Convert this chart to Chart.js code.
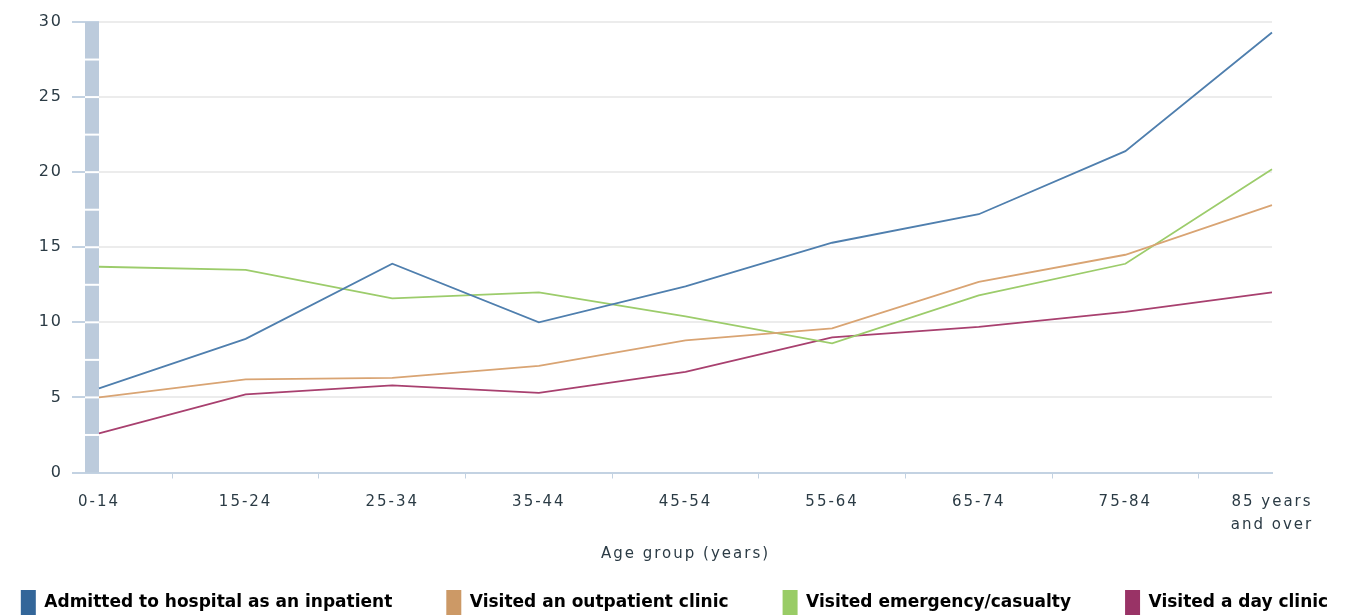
<!DOCTYPE html>
<html>
<head>
<meta charset="utf-8">
<script src="https://cdn.jsdelivr.net/npm/chart.js@4.4.1/dist/chart.umd.min.js"></script>
<style>
html,body{margin:0;padding:0;background:#fff;overflow:hidden;}
#wrap{width:1349px;height:615px;position:relative;}
</style>
</head>
<body>
<div id="wrap"><canvas id="c" width="1349" height="615"></canvas></div>
<script>
const categories = ['0-14','15-24','25-34','35-44','45-54','55-64','65-74','75-84',['85 years','and over']];
const inpatient   = [5.6, 8.9, 13.9, 10.0, 12.4, 15.3, 17.2, 21.4, 29.3];
const outpatient  = [5.0, 6.2, 6.3, 7.1, 8.8, 9.6, 12.7, 14.5, 17.8];
const emergency   = [13.7, 13.5, 11.6, 12.0, 10.4, 8.6, 11.8, 13.9, 20.2];
const dayClinic   = [2.6, 5.2, 5.8, 5.3, 6.7, 9.0, 9.7, 10.7, 12.0];
const seriesNames = ['Admitted to hospital as an inpatient','Visited an outpatient clinic','Visited emergency/casualty','Visited a day clinic'];
const yTicks = [0, 5, 10, 15, 20, 25, 30];

const lineColors = ['#4f7fae', '#d9a473', '#9ccc6b', '#a8406f'];
const boxColors  = ['#336699', '#cc9966', '#99cc66', '#993366'];
const seriesData = [inpatient, outpatient, emergency, dayClinic];

const axisBlue = '#c3d2e2';
const textCol = '#2b3b45';

function setSpacing(chart) {
  if ('letterSpacing' in chart.ctx) chart.ctx.letterSpacing = '2px';
}
function noSpacing(ctx) {
  if ('letterSpacing' in ctx) ctx.letterSpacing = '0px';
}

const spacingPlugin = {
  id: 'spacing',
  beforeInit: setSpacing,
  beforeUpdate: setSpacing,
  beforeLayout: setSpacing,
  beforeDraw: setSpacing
};

const bandPlugin = {
  id: 'band',
  beforeDatasetsDraw(chart) {
    const ctx = chart.ctx, ca = chart.chartArea, y = chart.scales.y;
    ctx.save();
    ctx.fillStyle = '#bccbdc';
    ctx.fillRect(ca.left - 14, ca.top, 14, ca.bottom - ca.top);
    ctx.fillStyle = '#ffffff';
    for (let v = 2.5; v < 30; v += 2.5) {
      const py = y.getPixelForValue(v);
      ctx.fillRect(ca.left - 14, py - 1, 14, 2);
    }
    ctx.restore();
  }
};

const LEGEND_PAD = 54;
const legendFix = {
  id: 'legendFix',
  afterInit(chart) {
    const lg = chart.legend;
    if (!lg) return;
    const f = lg.fit.bind(lg);
    lg.fit = function () {
      const mw = this.maxWidth;
      this.maxWidth = 100000;
      noSpacing(this.ctx);
      f();
      setSpacing(chart);
      this.maxWidth = mw;
      this.width = mw;
      this.height = 30;
    };
    const d = lg.draw.bind(lg);
    lg.draw = function () {
      const saved = { top: this.top, left: this.left, right: this.right };
      const D = 200;
      this.top = saved.top - (LEGEND_PAD - 5);
      this.left = -D;
      this.right = chart.width + D;
      noSpacing(this.ctx);
      d();
      setSpacing(chart);
      this.top = saved.top; this.left = saved.left; this.right = saved.right;
    };
  }
};

new Chart(document.getElementById('c'), {
  type: 'line',
  data: {
    labels: categories,
    datasets: seriesData.map((d, i) => ({
      label: seriesNames[i],
      data: d,
      borderColor: lineColors[i],
      backgroundColor: boxColors[i],
      borderWidth: 1.8,
      pointRadius: 0,
      tension: 0,
      fill: false
    }))
  },
  options: {
    responsive: false,
    animation: false,
    layout: { padding: { top: 22, right: 77, left: 0, bottom: 0 } },
    plugins: {
      tooltip: { enabled: false },
      legend: {
        position: 'bottom',
        labels: {
          boxWidth: 15,
          boxHeight: 26,
          padding: LEGEND_PAD,
          color: '#1f3440',
          font: { family: 'DejaVu Sans', size: 17, weight: 'bold' },
          generateLabels(chart) {
            return chart.data.datasets.map((ds, i) => ({
              text: ds.label,
              fillStyle: boxColors[i],
              strokeStyle: boxColors[i],
              lineWidth: 0,
              hidden: false,
              datasetIndex: i
            }));
          }
        }
      }
    },
    scales: {
      x: {
        offset: false,
        grid: {
          display: true,
          offset: true,
          drawOnChartArea: false,
          drawTicks: true,
          tickLength: 6,
          tickColor: axisBlue,
          color: axisBlue
        },
        border: { display: true, color: axisBlue, width: 2 },
        ticks: {
          color: textCol,
          font: { family: 'DejaVu Sans', size: 15, lineHeight: 1.55 },
          padding: 12,
          maxRotation: 0,
          autoSkip: false
        },
        title: {
          display: true,
          text: 'Age group (years)',
          color: textCol,
          font: { family: 'DejaVu Sans', size: 15 },
          padding: { top: -4, bottom: 22 }
        }
      },
      y: {
        min: 0,
        max: 30,
        afterFit(s) { s.width = 99; },
        afterBuildTicks(s) { s.ticks = yTicks.map(v => ({ value: v })); },
        grid: {
          color: '#ececec',
          lineWidth: 2,
          drawTicks: true,
          tickLength: 27,
          tickColor: axisBlue,
          tickWidth: 2
        },
        border: { display: false },
        ticks: {
          color: textCol,
          font: { family: 'DejaVu Sans', size: 16 },
          padding: 9
        }
      }
    }
  },
  plugins: [spacingPlugin, bandPlugin, legendFix]
});
</script>
</body>
</html>
